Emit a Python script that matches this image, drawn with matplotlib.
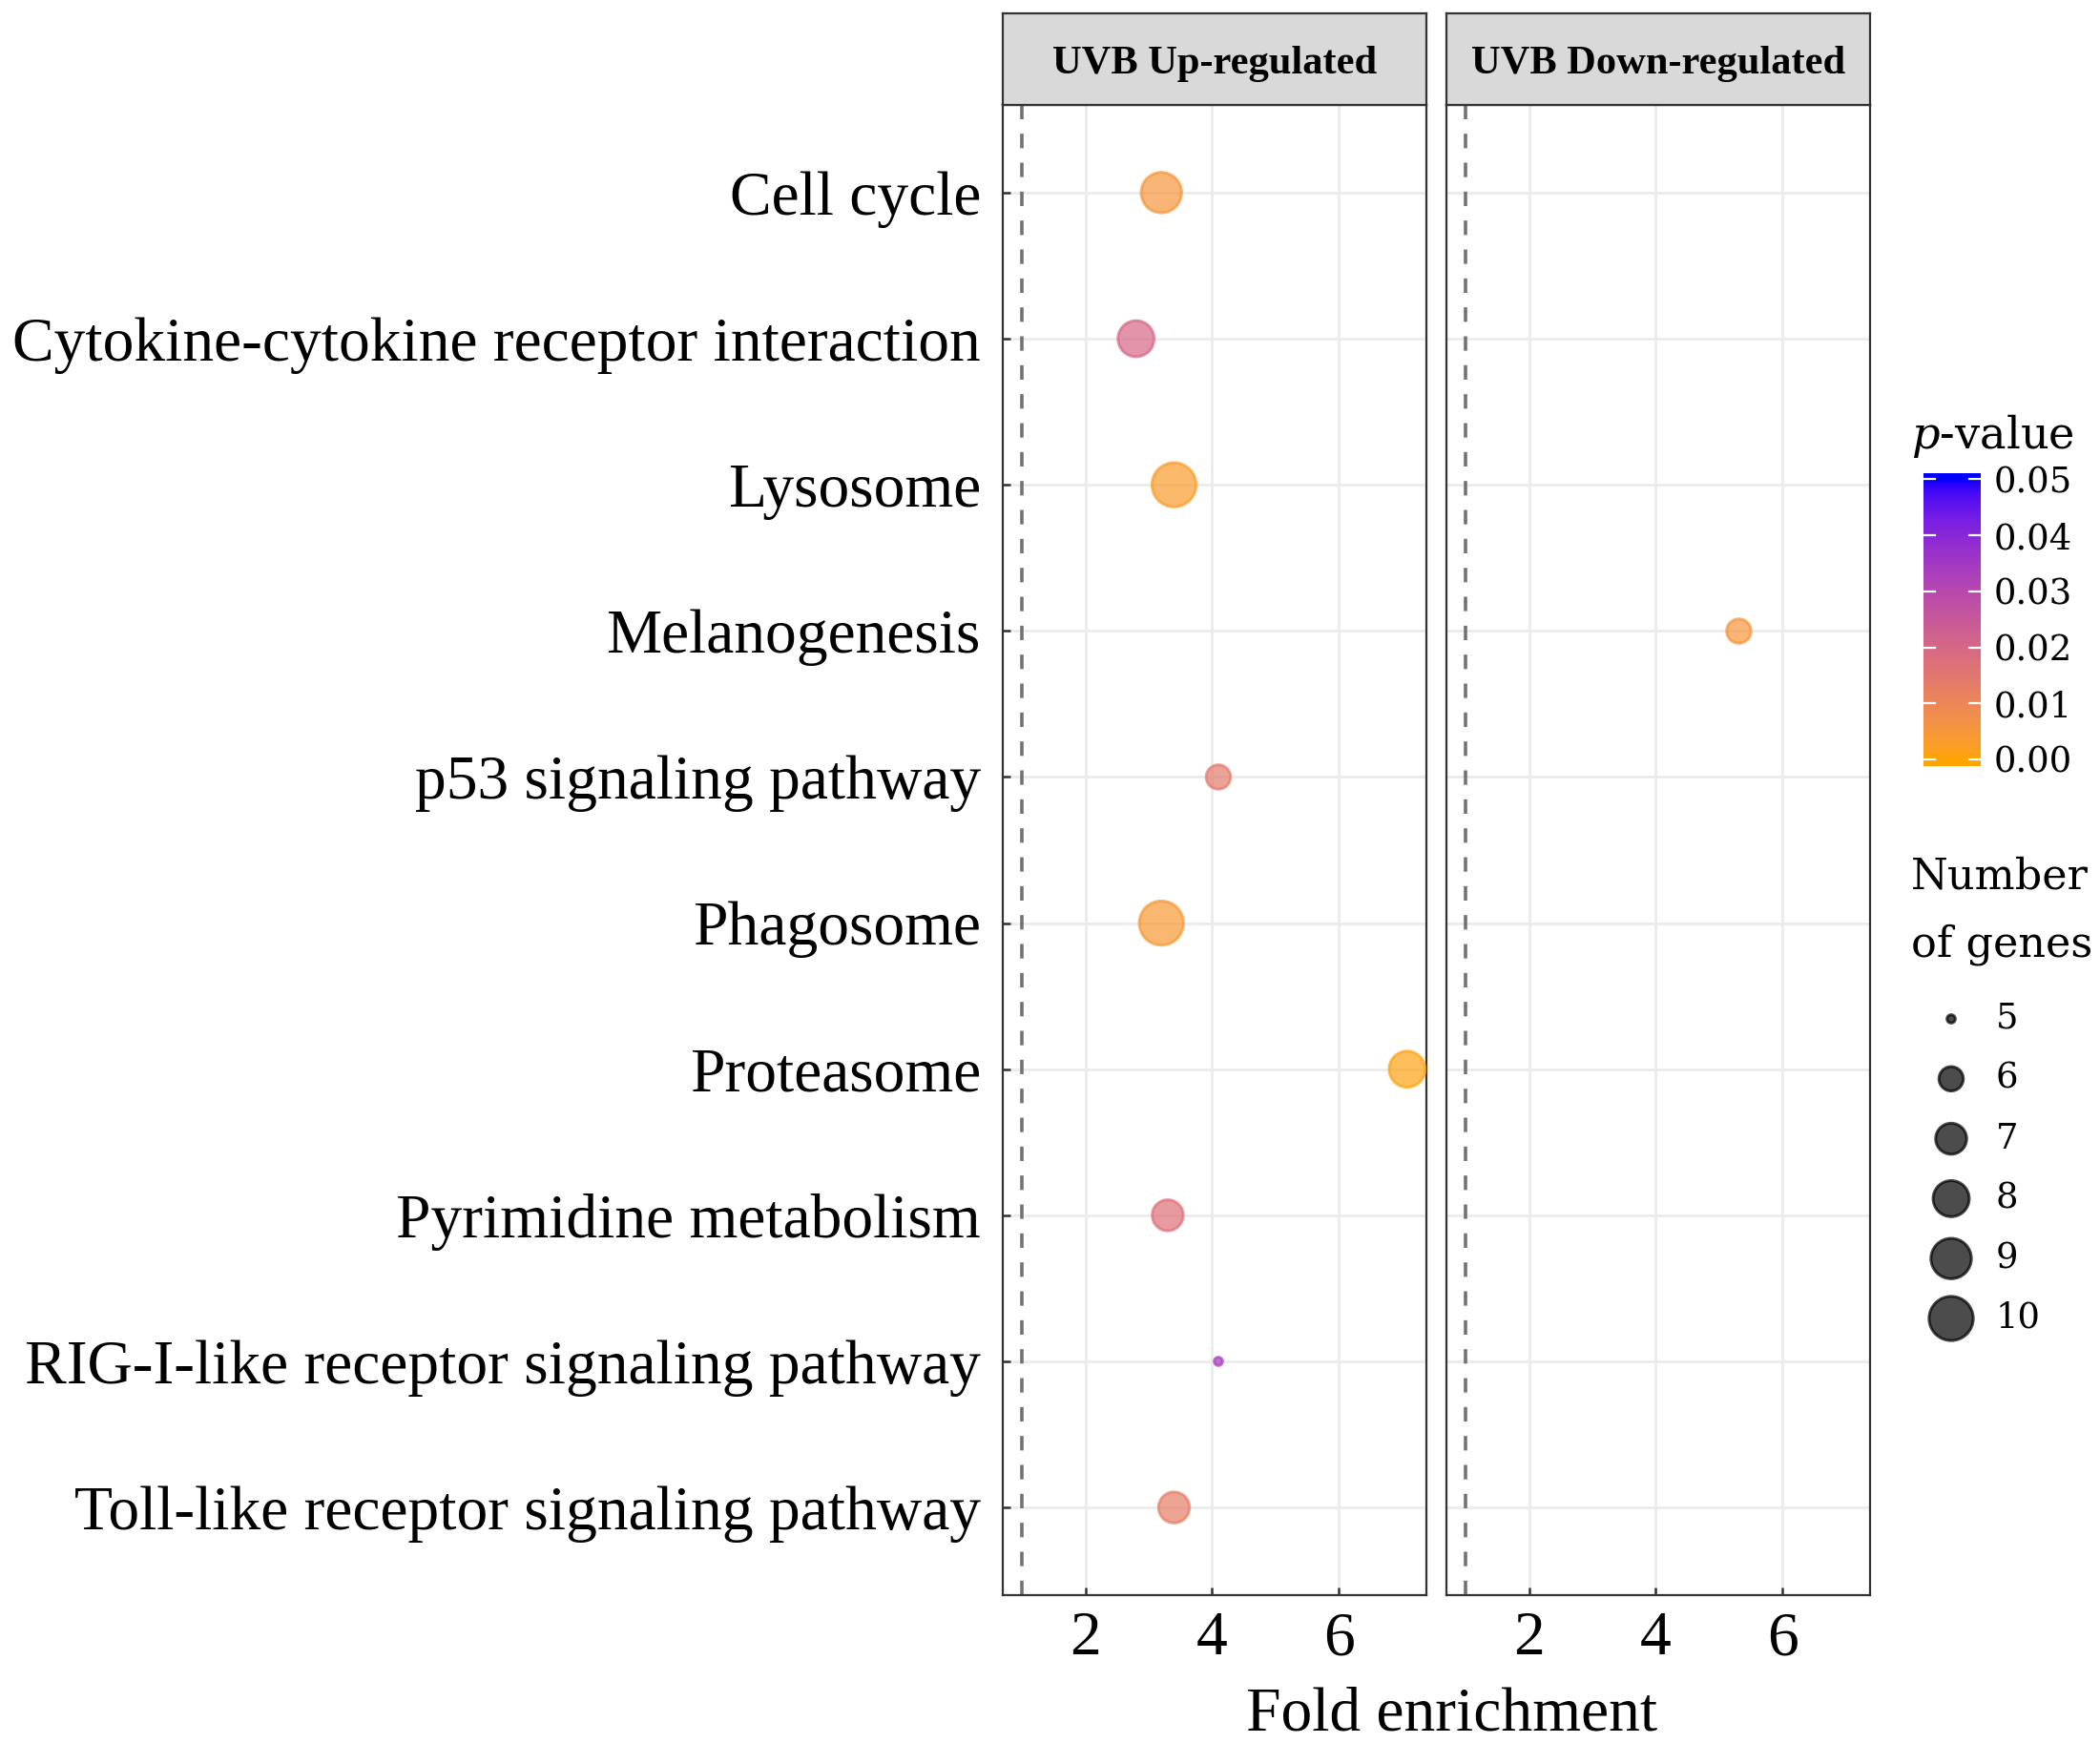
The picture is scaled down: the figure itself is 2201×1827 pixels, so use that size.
import numpy as np
import matplotlib
matplotlib.use("Agg")
import matplotlib.pyplot as plt
from matplotlib.colors import ListedColormap, Normalize

# ---------------- data ----------------
categories = [
    "Cell cycle",
    "Cytokine-cytokine receptor interaction",
    "Lysosome",
    "Melanogenesis",
    "p53 signaling pathway",
    "Phagosome",
    "Proteasome",
    "Pyrimidine metabolism",
    "RIG-I-like receptor signaling pathway",
    "Toll-like receptor signaling pathway",
]

up_terms = [
    "Cell cycle",
    "Cytokine-cytokine receptor interaction",
    "Lysosome",
    "p53 signaling pathway",
    "Phagosome",
    "Proteasome",
    "Pyrimidine metabolism",
    "RIG-I-like receptor signaling pathway",
    "Toll-like receptor signaling pathway",
]
up_fold = [3.2, 2.8, 3.4, 4.1, 3.2, 7.08, 3.3, 4.1, 3.4]
up_pvalue = [0.005, 0.020, 0.003, 0.014, 0.004, 0.0008, 0.017, 0.034, 0.013]
up_genes = [9, 8, 10, 6, 10, 8, 7, 5, 7]

down_terms = ["Melanogenesis"]
down_fold = [5.3]
down_pvalue = [0.005]
down_genes = [6]

panel_titles = ["UVB Up-regulated", "UVB Down-regulated"]
x_ticks = [2, 4, 6]
p_breaks = [0.00, 0.01, 0.02, 0.03, 0.04, 0.05]
gene_breaks = [5, 6, 7, 8, 9, 10]
ref_line = 1.0

# ---------------- setup ----------------
W, H = 2201, 1827
DPI = 200
PX_PER_PT = DPI / 72.0
plt.rcParams["mathtext.fontset"] = "dejavuserif"

AX_FONT = "Liberation Serif"
LEG_FONT = "DejaVu Serif"
AX_SIZE = 23.6
DARK = "#333333"


def fx(px):
    return px / W


def fy(py):
    return 1 - py / H


# ---- Lab interpolated gradient orange -> blue (like ggplot scale_colour_gradient)
M = np.array([[0.4124564, 0.3575761, 0.1804375],
              [0.2126729, 0.7151522, 0.0721750],
              [0.0193339, 0.1191920, 0.9503041]])
Minv = np.linalg.inv(M)
WHITE = np.array([0.95047, 1.0, 1.08883])
D = 6 / 29


def srgb_to_lab(rgb):
    c = np.asarray(rgb, float)
    lin = np.where(c <= 0.04045, c / 12.92, ((c + 0.055) / 1.055) ** 2.4)
    xyz = M @ lin / WHITE
    f = np.where(xyz > D ** 3, np.cbrt(xyz), xyz / (3 * D * D) + 4 / 29)
    return np.array([116 * f[1] - 16, 500 * (f[0] - f[1]), 200 * (f[1] - f[2])])


def lab_to_srgb(lab):
    L, a, b = lab
    fyv = (L + 16) / 116
    f = np.array([fyv + a / 500, fyv, fyv - b / 200])
    xyz = np.where(f > D, f ** 3, 3 * D * D * (f - 4 / 29)) * WHITE
    lin = Minv @ xyz
    lin = np.clip(lin, 0, 1)
    c = np.where(lin <= 0.0031308, 12.92 * lin, 1.055 * lin ** (1 / 2.4) - 0.055)
    return np.clip(c, 0, 1)


low = srgb_to_lab([1.0, 165 / 255, 0.0])
high = srgb_to_lab([0.0, 0.0, 1.0])
cols = [lab_to_srgb(low + t * (high - low)) for t in np.linspace(0, 1, 256)]
cmap = ListedColormap(cols)
norm = Normalize(vmin=min(p_breaks), vmax=max(p_breaks))

# ---- size scale (area palette like ggplot scale_size)
GMIN, GMAX = min(gene_breaks), max(gene_breaks)
D_MIN_PX, D_MAX_PX = 11.7, 49.3
EDGE_PX = 3.0
EDGE_PT = EDGE_PX / PX_PER_PT


def marker_area(n):
    t = (np.asarray(n, float) - GMIN) / (GMAX - GMIN)
    d = D_MIN_PX + np.sqrt(t) * (D_MAX_PX - D_MIN_PX) - EDGE_PX
    return (d / PX_PER_PT) ** 2


fig = plt.figure(figsize=(W / DPI, H / DPI), dpi=DPI)

all_fold = up_fold + down_fold + [ref_line]
lo, hi = min(all_fold), max(all_fold)
pad = 0.05 * (hi - lo)
xlim = (lo - pad, hi + pad)
ylim = (len(categories) - 1 + 0.6, -0.6)

panel_left = [1051, 1516]
panel_w = 444
panel_top, panel_bot = 110, 1672
strip_top = 14

datasets = [(up_terms, up_fold, up_pvalue, up_genes),
            (down_terms, down_fold, down_pvalue, down_genes)]

for k, (terms, fold, pv, genes) in enumerate(datasets):
    ax = fig.add_axes([fx(panel_left[k]), fy(panel_bot), panel_w / W,
                       (panel_bot - panel_top) / H])
    ax.set_xlim(*xlim)
    ax.set_ylim(*ylim)
    ax.set_xticks(x_ticks)
    ax.set_yticks(range(len(categories)))
    ax.set_axisbelow(True)
    ax.grid(True, color="#EBEBEB", lw=1.0, zorder=0)
    ax.axvline(ref_line, color="#6E7474", lw=1.3, dashes=(4.2, 4.2), zorder=1)
    y = [categories.index(t) for t in terms]
    c = cmap(norm(np.asarray(pv)))
    ax.scatter(fold, y, s=marker_area(genes), c=c, edgecolors=c, alpha=0.7,
               linewidths=EDGE_PT, zorder=3)
    for sp in ax.spines.values():
        sp.set_color(DARK)
        sp.set_linewidth(0.8)
    ax.tick_params(axis="both", direction="in", length=3, width=0.9,
                   color=DARK, labelcolor="black")
    ax.tick_params(axis="x", pad=6)
    ax.set_xticklabels([str(v) for v in x_ticks], fontsize=AX_SIZE, family=AX_FONT)
    if k == 0:
        ax.tick_params(axis="y", pad=8.3)
        ax.set_yticklabels(categories, fontsize=AX_SIZE, family=AX_FONT)
    else:
        ax.tick_params(axis="y", left=False, labelleft=False)

    sax = fig.add_axes([fx(panel_left[k]), fy(panel_top), panel_w / W,
                        (panel_top - strip_top) / H])
    sax.set_facecolor("#D9D9D9")
    sax.set_xticks([])
    sax.set_yticks([])
    for sp in sax.spines.values():
        sp.set_color(DARK)
        sp.set_linewidth(0.8)
    sax.text(0.5, 0.5, panel_titles[k], ha="center", va="center_baseline",
             fontsize=15.3, fontweight="bold", family=AX_FONT,
             transform=sax.transAxes)

fig.text(fx(1522), fy(1813), "Fold enrichment", ha="center", va="baseline",
         fontsize=AX_SIZE, family=AX_FONT)

# ---------------- colour bar ----------------
cb_top, cb_bot = 496, 803
vmin, vmax = -0.0012, 0.0511
cax = fig.add_axes([fx(2016), fy(cb_bot), (2076 - 2016) / W, (cb_bot - cb_top) / H])
grad = np.linspace(vmin, vmax, 300).reshape(-1, 1)
cax.imshow(grad, extent=[0, 1, vmin, vmax], origin="lower", aspect="auto",
           cmap=cmap, norm=norm, interpolation="bilinear")
cax.set_xlim(0, 1)
cax.set_ylim(vmin, vmax)
for b in p_breaks:
    cax.plot([0, 0.2], [b, b], color="white", lw=0.8)
    cax.plot([0.8, 1], [b, b], color="white", lw=0.8)
for sp in cax.spines.values():
    sp.set_visible(False)
cax.set_xticks([])
cax.yaxis.tick_right()
cax.set_yticks(p_breaks)
cax.set_yticklabels([f"{b:.2f}" for b in p_breaks], fontsize=13.3, family=LEG_FONT)
cax.tick_params(axis="y", length=0, pad=5.0)

fig.text(fx(2003), fy(470), r"$p$-value", ha="left", va="baseline",
         fontsize=16.7, family=LEG_FONT)

# ---------------- size legend ----------------
lax = fig.add_axes([0, 0, 1, 1], zorder=10)
lax.set_xlim(0, W)
lax.set_ylim(H, 0)
lax.axis("off")
lax.text(2003, 932, "Number", ha="left", va="baseline", fontsize=16, family=LEG_FONT)
lax.text(2003, 1002, "of genes", ha="left", va="baseline", fontsize=16, family=LEG_FONT)
key_y = [1068 + i * 62.8 for i in range(len(gene_breaks))]
lax.scatter([2045] * len(gene_breaks), key_y, s=marker_area(gene_breaks),
            c="black", edgecolors="black", alpha=0.7, linewidths=EDGE_PT)
for yy, g in zip(key_y, gene_breaks):
    lax.text(2092, yy, str(g), ha="left", va="center", fontsize=13.3, family=LEG_FONT)

fig.savefig("out.png", dpi=DPI, facecolor="white")
